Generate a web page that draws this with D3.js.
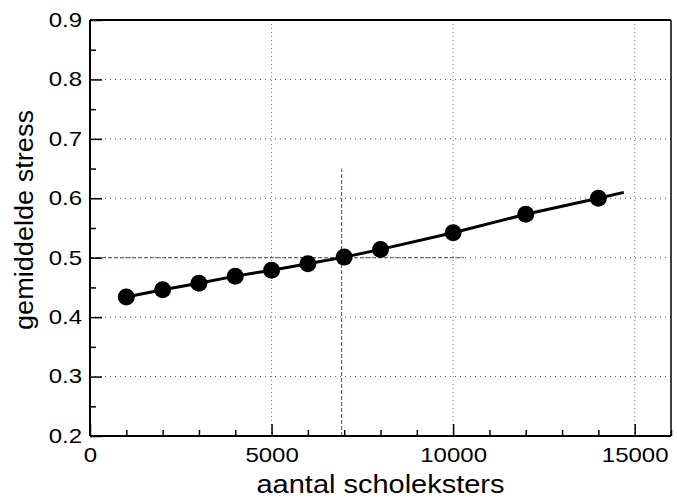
<!DOCTYPE html>
<html>
<head>
<meta charset="utf-8">
<script src="https://cdn.jsdelivr.net/npm/d3@7"></script>
<style>
  html, body { margin: 0; padding: 0; background: #fff; }
  svg { display: block; }
  text { font-family: "Liberation Sans", Arial, Helvetica, sans-serif; fill: #000; }
</style>
</head>
<body>
<svg id="chart" width="677" height="501"></svg>
<script>
// ---- data ----
const birdCounts = [1000, 2000, 3000, 4000, 5000, 6000, 7000, 8000, 10000, 12000, 14000];
const meanStress = [0.434, 0.446, 0.457, 0.469, 0.479, 0.490, 0.501, 0.514, 0.542, 0.573, 0.600];
const fitX = [1000, 2000, 3000, 4000, 5000, 6000, 7000, 8000, 10000, 12000, 14000, 14700];
const fitY = [0.434, 0.446, 0.457, 0.469, 0.479, 0.490, 0.501, 0.514, 0.542, 0.573, 0.600, 0.610];
const xMajorTicks = [0, 5000, 10000, 15000];
const xMinorTicks = [1000, 2000, 3000, 4000, 6000, 7000, 8000, 9000, 11000, 12000, 13000, 14000, 16000];
const yMajorTicks = [0.2, 0.3, 0.4, 0.5, 0.6, 0.7, 0.8, 0.9];
const yMinorTicks = [0.25, 0.35, 0.45, 0.55, 0.65, 0.75, 0.85];
const xGrid = [5000, 10000, 15000];
const yGrid = [0.3, 0.4, 0.5, 0.6, 0.7, 0.8];
const refHorizontal = { y: 0.5, x0: 0, x1: 10300 };
const refVertical = { x: 6930, y0: 0.2, y1: 0.65 };
const xTitle = "aantal scholeksters";
const yTitle = "gemiddelde stress";

// ---- layout ----
const svg = d3.select("#chart");
const L = 90, R = 671, T = 20, B = 436;
const x = d3.scaleLinear().domain([0, 16000]).range([L, R]);
const y = d3.scaleLinear().domain([0.2, 0.9]).range([B, T]);
const SX = 1.2; // horizontal stretch of glyphs

// grid
const grid = svg.append("g");
grid.selectAll("line.gx").data(xGrid).join("line")
  .attr("x1", d => x(d)).attr("x2", d => x(d))
  .attr("y1", y(0.9)).attr("y2", y(0.2))
  .attr("stroke", "#777").attr("stroke-width", 1).attr("stroke-dasharray", "1,3");
grid.selectAll("line.gy").data(yGrid).join("line")
  .attr("x1", x(0)).attr("x2", x(16000))
  .attr("y1", d => y(d)).attr("y2", d => y(d))
  .attr("stroke", "#555").attr("stroke-width", 1).attr("stroke-dasharray", "1,4");

// red reference lines
svg.append("line")
  .attr("x1", x(refHorizontal.x0)).attr("x2", x(refHorizontal.x1))
  .attr("y1", y(refHorizontal.y)).attr("y2", y(refHorizontal.y))
  .attr("stroke", "#e01010").attr("stroke-width", 1).attr("stroke-dasharray", "4,2");
svg.append("line")
  .attr("x1", x(refVertical.x)).attr("x2", x(refVertical.x))
  .attr("y1", y(refVertical.y0)).attr("y2", y(refVertical.y1))
  .attr("stroke", "#e01010").attr("stroke-width", 1).attr("stroke-dasharray", "4,2");

// fit line
const fitData = fitX.map((d, i) => [d, fitY[i]]);
svg.append("path")
  .datum(fitData)
  .attr("fill", "none").attr("stroke", "#000").attr("stroke-width", 3)
  .attr("d", d3.line().x(d => x(d[0])).y(d => y(d[1])));

// markers
svg.selectAll("circle.pt").data(birdCounts).join("circle")
  .attr("class", "pt")
  .attr("cx", d => x(d)).attr("cy", (d, i) => y(meanStress[i]))
  .attr("r", 8.5).attr("fill", "#000");

// frame (top & right)
svg.append("line").attr("x1", L).attr("x2", R).attr("y1", T).attr("y2", T)
  .attr("stroke", "#000").attr("stroke-width", 2);
svg.append("line").attr("x1", R).attr("x2", R).attr("y1", T).attr("y2", B)
  .attr("stroke", "#000").attr("stroke-width", 1.5);

// x axis
const xMinor = svg.append("g").attr("transform", `translate(0,${B})`)
  .call(d3.axisBottom(x).tickValues(xMinorTicks).tickSize(-6).tickFormat(""));
const xMajor = svg.append("g").attr("transform", `translate(0,${B})`)
  .call(d3.axisBottom(x).tickValues(xMajorTicks).tickSize(-12).tickPadding(12).tickFormat(d3.format("d")));
[xMinor, xMajor].forEach(g => {
  g.select(".domain").remove();
  g.selectAll(".tick line").attr("stroke", "#000").attr("stroke-width", 1.5);
});
xMajor.selectAll(".tick text")
  .attr("font-size", 20).attr("fill", "#000")
  .attr("font-family", "'Liberation Sans', Arial, Helvetica, sans-serif")
  .attr("transform", `scale(${SX},1)`);

// y axis
const yMinor = svg.append("g").attr("transform", `translate(${L},0)`)
  .call(d3.axisLeft(y).tickValues(yMinorTicks).tickSize(-6).tickFormat(""));
const yMajor = svg.append("g").attr("transform", `translate(${L},0)`)
  .call(d3.axisLeft(y).tickValues(yMajorTicks).tickSize(-12).tickPadding(8).tickFormat(d3.format(".1f")));
[yMinor, yMajor].forEach(g => {
  g.select(".domain").remove();
  g.selectAll(".tick line").attr("stroke", "#000").attr("stroke-width", 1.5);
});
yMajor.selectAll(".tick text")
  .attr("font-size", 20).attr("fill", "#000")
  .attr("font-family", "'Liberation Sans', Arial, Helvetica, sans-serif")
  .attr("x", -8 / SX)
  .attr("transform", `scale(${SX},1)`);

// axis lines
svg.append("line").attr("x1", L).attr("x2", R).attr("y1", B).attr("y2", B)
  .attr("stroke", "#000").attr("stroke-width", 2);
svg.append("line").attr("x1", L).attr("x2", L).attr("y1", T).attr("y2", B)
  .attr("stroke", "#000").attr("stroke-width", 2);

// titles
svg.append("text")
  .attr("x", (L + R) / 2).attr("y", 493)
  .attr("text-anchor", "middle").attr("font-size", 25)
  .attr("textLength", 248).attr("lengthAdjust", "spacingAndGlyphs")
  .text(xTitle);
svg.append("text")
  .attr("transform", `translate(33,220) rotate(-90)`)
  .attr("text-anchor", "middle").attr("font-size", 25)
  .attr("textLength", 220).attr("lengthAdjust", "spacingAndGlyphs")
  .text(yTitle);
</script>
</body>
</html>
